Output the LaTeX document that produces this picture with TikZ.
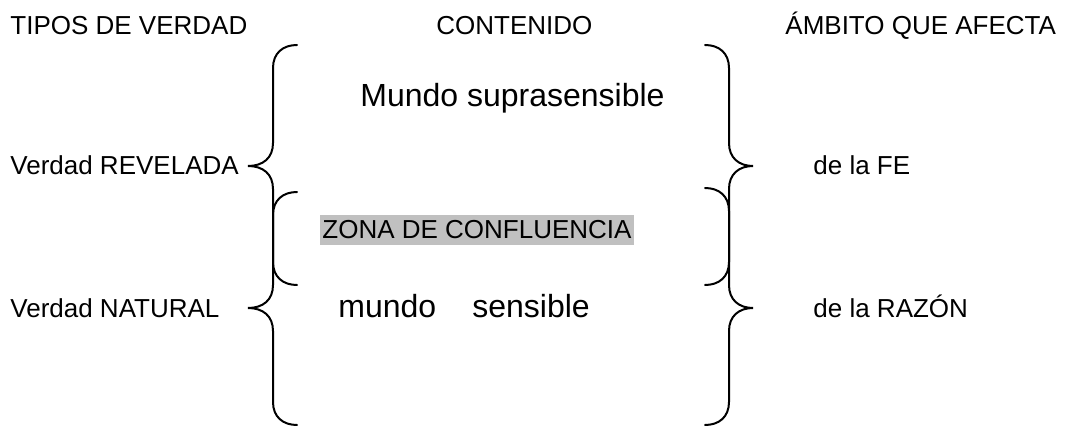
\documentclass[tikz,border=0pt]{standalone}
\usepackage{fontspec}
\setmainfont{Liberation Sans}
\usepackage{tikz}

\definecolor{zonagray}{RGB}{192,192,192}

\tikzset{
    etiqueta/.style={anchor=base west, inner sep=0pt, font=\fontsize{13}{15}\selectfont},
    grande/.style={anchor=base west, inner sep=0pt, font=\fontsize{16}{19}\selectfont},
    zona/.style={etiqueta, fill=zonagray, inner xsep=1pt, inner ysep=3pt},
    llave/.style={line width=1pt, line cap=round}
}

\begin{document}
\begin{tikzpicture}[x=0.5pt, y=-0.5pt]

    \useasboundingbox (0,0) rectangle (1065,427);

    \node[etiqueta] (tipos) at (10,35) {TIPOS DE VERDAD};
    \node[etiqueta] (contenido) at (436,35) {CONTENIDO};
    \node[etiqueta] (ambito) at (785,35) {ÁMBITO QUE AFECTA};

    \node[grande] (suprasensible) at (360,107) {Mundo suprasensible};

    \node[etiqueta] (revelada) at (10,175) {Verdad REVELADA};
    \node[etiqueta] (fe) at (813,175) {de la FE};

    \node[zona] (confluencia) at (320,239) {ZONA DE CONFLUENCIA};

    \node[etiqueta] (natural) at (10,317) {Verdad NATURAL};
    \node[grande] (mundo) at (338,317) {mundo};
    \node[grande] (sensible) at (472,317) {sensible};
    \node[etiqueta] (razon) at (813,317) {de la RAZÓN};

    \draw[llave] (297,45) .. controls (283,45) and (273,53) .. (273,68)
        -- (273,143) .. controls (273,158) and (263,166) .. (248,166)
        .. controls (263,166) and (273,174) .. (273,189)
        -- (273,285) .. controls (273,300) and (263,308) .. (248,308)
        .. controls (263,308) and (273,316) .. (273,331)
        -- (273,402) .. controls (273,417) and (283,425) .. (297,425);
    \draw[llave] (297,192) .. controls (283,192) and (273,200) .. (273,215)
        -- (273,262) .. controls (273,277) and (283,285) .. (297,285);

    \draw[llave] (705,45) .. controls (719,45) and (729,53) .. (729,68)
        -- (729,143) .. controls (729,158) and (739,166) .. (753,166)
        .. controls (739,166) and (729,174) .. (729,189)
        -- (729,285) .. controls (729,300) and (739,308) .. (753,308)
        .. controls (739,308) and (729,316) .. (729,331)
        -- (729,402) .. controls (729,417) and (719,425) .. (705,425);
    \draw[llave] (705,188) .. controls (719,188) and (729,196) .. (729,211)
        -- (729,262) .. controls (729,277) and (719,285) .. (705,285);

\end{tikzpicture}
\end{document}
